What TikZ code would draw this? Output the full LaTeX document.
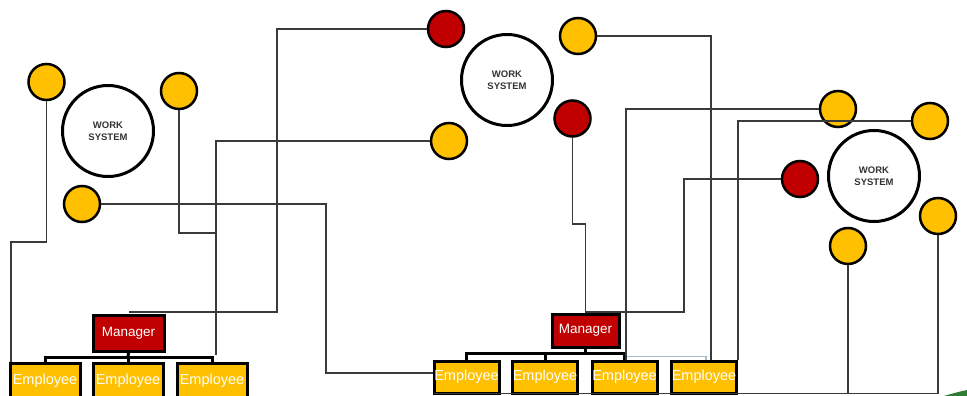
\documentclass[tikz,border=0pt]{standalone}
\usepackage{fontspec}
\setmainfont{Liberation Sans}
\definecolor{ylw}{HTML}{FFC000}
\definecolor{rd}{HTML}{C00000}
\definecolor{wirec}{HTML}{3A3A3A}
\definecolor{faint}{HTML}{A9BBC6}
\definecolor{grn}{HTML}{2E7D32}
\begin{document}
\begin{tikzpicture}[x=1pt,y=-1pt,
  smallc/.style={circle, draw=black, line width=2.5pt, minimum size=36pt, inner sep=0pt},
  yc/.style={smallc, fill=ylw},
  rc/.style={smallc, fill=rd},
  ws/.style={circle, draw=black, line width=3pt, minimum size=91pt, inner sep=0pt, align=center,
    font=\bfseries\fontsize{9.5}{12}\selectfont, text=black!80},
  emp/.style={draw=black, line width=3pt, fill=ylw, text=white, inner sep=0pt,
    font=\fontsize{14.5}{15}\selectfont},
  mgr/.style={draw=black, line width=3pt, fill=rd, text=white, inner sep=0pt,
    font=\fontsize{13.5}{14}\selectfont},
  wire/.style={draw=wirec, line width=1.2pt},
  brk/.style={draw=black, line width=3pt}]
\useasboundingbox (0,0) rectangle (967,396);
\clip (0,0) rectangle (967,396);

% work systems
\node[ws] (wsL) at (108,131) {WORK\\SYSTEM};
\node[ws] (wsM) at (507,80) {WORK\\SYSTEM};
\node[ws] (wsR) at (874,176) {WORK\\SYSTEM};

% left circles
\node[yc] (c1) at (46.5,82) {};
\node[yc] (c2) at (179,91) {};
\node[yc] (c3) at (82,204) {};
% middle circles
\node[rc] (rt) at (446,29) {};
\node[yc] (ym) at (449,141) {};
\node[yc] (ytr) at (578,36) {};
\node[rc] (rm) at (572.5,118.5) {};
% right circles
\node[yc] (ya) at (838,109) {};
\node[yc] (yb) at (930,121) {};
\node[rc] (rr) at (800,179) {};
\node[yc] (yc2) at (938,216) {};
\node[yc] (yd) at (848,246) {};

% left org chart
\node[mgr, minimum width=71pt, minimum height=36pt] (m1) at (128.5,333) {Manager};
\node[emp, minimum width=70pt, minimum height=36pt] (e1) at (45,381) {Employee};
\node[emp, minimum width=70pt, minimum height=36pt] (e2) at (128,381) {Employee};
\node[emp, minimum width=70pt, minimum height=36pt] (e3) at (212,381) {Employee};
\draw[brk] (m1.south) -- (128,357);
\draw[brk] (e1.north) -- (45,357) -- (212,357) -- (e3.north);
\draw[brk] (128,357) -- (e2.north);

% middle org chart
\node[mgr, minimum width=67pt, minimum height=33pt] (m2) at (585.5,330.5) {Manager};
\node[emp, minimum width=65pt, minimum height=32pt] (f1) at (466.5,377) {Employee};
\node[emp, minimum width=65pt, minimum height=32pt] (f2) at (545,377) {Employee};
\node[emp, minimum width=65pt, minimum height=32pt] (f3) at (624.5,377) {Employee};
\node[emp, minimum width=65pt, minimum height=32pt] (f4) at (704,377) {Employee};
\draw[brk] (m2.south) -- (585.5,353);
\draw[brk] (f1.north) -- (466.5,353) -- (624.5,353) -- (f3.north);
\draw[brk] (545,353) -- (f2.north);
\draw[draw=faint, line width=1.5pt] (626,356.5) -- (706,356.5) -- (706,359.5);

% connector end points on box edges
\coordinate (e1in) at (11,361.5);
\coordinate (f1in) at (432.5,373);
\coordinate (f3in) at (626,359.5);
\coordinate (f4in) at (711,359.5);
\coordinate (f4ne) at (738,359.5);
\coordinate (f1sw) at (434,393.5);
\coordinate (m1in) at (128.5,312);

% connectors
\draw[wire] (c1.south) -- (46.5,242) -- (11,242) -- (e1in);
\draw[wire] (c2.south) -- (179,233) -- (216,233) -- (216,355);
\draw[wire] (ym.west) -- (216,141) -- (216,233);
\draw[wire] (c3.east) -- (326,204) -- (326,373) -- (f1in);
\draw[wire] (rt.west) -- (277,29) -- (277,312) -- (m1in);
\draw[wire] (ytr.east) -- (711,36) -- (f4in);
\draw[wire] (rm.south) -- (572.5,224) -- (585.5,224) -- (m2.north);
\draw[wire] (rr.west) -- (684,179) -- (684,312) -- (585.5,312);
\draw[wire] (ya.west) -- (626,109) -- (f3in);
\draw[wire] (yb.west) -- (738,121) -- (f4ne);
\draw[wire] (yc2.south) -- (938,393.5) -- (f1sw);
\draw[wire] (yd.south) -- (848,393.5);

% green sliver
\fill[grn] (944,396) .. controls (952,393.5) and (960,391.5) .. (967,390) -- (967,396) -- cycle;
\end{tikzpicture}
\end{document}
